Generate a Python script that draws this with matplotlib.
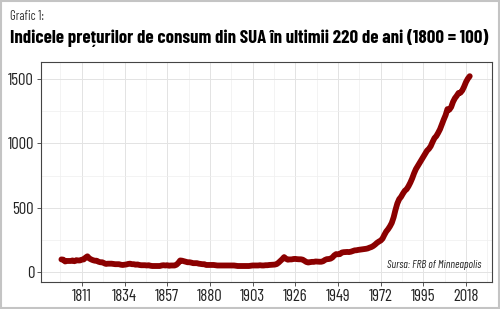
import matplotlib.pyplot as plt
from matplotlib.patches import Rectangle

# Indicele pretului de consum SUA, 1800 = 100
years = list(range(1800, 2021))
cpi = [
    100, 98, 84, 88, 88, 88, 92, 86, 94, 92,            # 1800-1809
    92, 98, 100, 114, 124, 108, 100, 94, 90, 90,        # 1810-1819
    82, 78, 78, 71, 65, 67, 67, 67, 65, 63,             # 1820-1829
    63, 63, 59, 57, 59, 61, 65, 67, 63, 63,             # 1830-1839
    59, 61, 57, 55, 55, 55, 53, 55, 51, 49,             # 1840-1849
    49, 49, 49, 49, 53, 55, 53, 55, 51, 53,             # 1850-1859
    53, 53, 59, 73, 92, 90, 86, 82, 78, 78,             # 1860-1869
    75, 71, 71, 71, 67, 65, 63, 63, 57, 57,             # 1870-1879
    57, 57, 57, 55, 53, 53, 53, 53, 53, 53,             # 1880-1889
    53, 53, 53, 53, 51, 49, 49, 49, 49, 49,             # 1890-1899
    49, 49, 51, 53, 53, 53, 53, 55, 53, 53,             # 1900-1909
    55, 55, 57, 58, 59, 60, 64, 75, 88, 102,            # 1910-1919
    118, 105, 98, 100, 100, 103, 104, 102, 101, 101,    # 1920-1929
    98, 89, 80, 76, 79, 81, 81, 84, 83, 82,             # 1930-1939
    82, 86, 96, 102, 103, 106, 115, 131, 141, 140,      # 1940-1949
    141, 153, 156, 157, 158, 157, 160, 165, 170, 171,   # 1950-1959
    174, 176, 178, 180, 182, 185, 191, 196, 204, 215,   # 1960-1969
    228, 238, 246, 261, 290, 316, 334, 356, 383, 426,   # 1970-1979
    484, 534, 567, 585, 610, 632, 644, 667, 695, 728,   # 1980-1989
    767, 800, 824, 848, 871, 895, 921, 943, 957, 978,   # 1990-1999
    1011, 1040, 1056, 1081, 1109, 1147, 1184, 1218, 1265, 1260,  # 2000-2009
    1281, 1321, 1349, 1368, 1390, 1392, 1410, 1440, 1475, 1501,  # 2010-2019
    1520,                                               # 2020
]
x_ticks = [1811, 1834, 1857, 1880, 1903, 1926, 1949, 1972, 1995, 2018]
y_ticks = [0, 500, 1000, 1500]

narrow = ['Barlow Condensed', 'DejaVu Sans']

fig = plt.figure(figsize=(5.0, 3.09), dpi=100)
fig.patch.set_facecolor('white')
fig.patches.append(Rectangle((0.002, 0.003), 0.996, 0.994, transform=fig.transFigure,
                             fill=False, edgecolor='#c4c4c4', linewidth=1.5))

ax = fig.add_axes([41 / 500, 1 - 282 / 309, 451 / 500, 220 / 309])
ax.plot(years, cpi, color='#8b0000', linewidth=4.2, solid_capstyle='round', zorder=3)

ax.set_xlim(1789, 2032)
ax.set_ylim(-75, 1630)
ax.set_xticks(x_ticks)
ax.set_yticks(y_ticks)
ax.set_xticks([t - 11.5 for t in x_ticks] + [x_ticks[-1] + 11.5], minor=True)
ax.set_yticks([250, 750, 1250], minor=True)
ax.grid(which='major', color='#e3e3e3', linewidth=0.7)
ax.grid(which='minor', color='#efefef', linewidth=0.5)
ax.set_axisbelow(True)
ax.tick_params(which='minor', length=0)
ax.tick_params(which='major', length=3, color='#555555', width=0.7,
               labelsize=12, labelcolor='#222222', pad=2)
for lab in ax.get_xticklabels() + ax.get_yticklabels():
    lab.set_family(narrow)
for s in ax.spines.values():
    s.set_color('#444444')
    s.set_linewidth(0.8)

fig.text(10 / 500, 1 - 16 / 309, 'Grafic 1:', fontsize=9, family=narrow,
         color='#333333', va='center')
fig.text(10 / 500, 1 - 38 / 309, 'Indicele prețurilor de consum din SUA în ultimii 220 de ani (1800 = 100)',
         fontsize=13.6, family=narrow, weight='bold', color='black', va='center')
ax.text(0.977, 0.075, 'Sursa: FRB of Minneapolis', transform=ax.transAxes,
        ha='right', va='center', fontsize=8, style='italic', family=narrow, color='#222222')

plt.savefig('out.png', dpi=100)
